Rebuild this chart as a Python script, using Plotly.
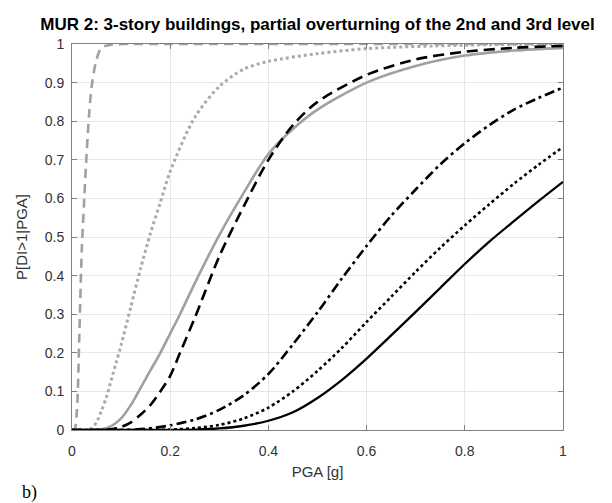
import plotly.graph_objects as go

# ---- data (PGA [g] -> probability) ----
gray_dash_x = [0.0, 0.005, 0.01, 0.015, 0.02, 0.025, 0.03, 0.035, 0.04, 0.05, 0.06, 0.08, 0.12, 0.2, 0.4, 0.6, 0.8, 1.0]
gray_dash_y = [0.0, 0.0, 0.05, 0.25, 0.47, 0.6, 0.72, 0.82, 0.89, 0.96, 0.99, 0.998, 1.0, 1.0, 1.0, 1.0, 1.0, 1.0]

gray_dot_x = [0.0, 0.03, 0.04, 0.05, 0.06, 0.07, 0.08, 0.09, 0.10, 0.12, 0.14, 0.16, 0.18, 0.20, 0.25, 0.30, 0.35, 0.40, 0.50, 0.60, 0.80, 1.0]
gray_dot_y = [0.0, 0.0, 0.005, 0.02, 0.05, 0.085, 0.13, 0.175, 0.22, 0.32, 0.42, 0.51, 0.59, 0.67, 0.81, 0.89, 0.935, 0.955, 0.975, 0.988, 0.997, 1.0]

gray_solid_x = [0.0, 0.04, 0.06, 0.08, 0.10, 0.12, 0.14, 0.16, 0.18, 0.20, 0.22, 0.25, 0.30, 0.35, 0.40, 0.45, 0.50, 0.60, 0.70, 0.80, 0.90, 1.0]
gray_solid_y = [0.0, 0.0, 0.002, 0.01, 0.03, 0.065, 0.11, 0.155, 0.2, 0.25, 0.3, 0.38, 0.505, 0.615, 0.715, 0.78, 0.83, 0.9, 0.943, 0.97, 0.983, 0.99]

black_dash_x = [0.0, 0.06, 0.08, 0.10, 0.12, 0.14, 0.16, 0.18, 0.20, 0.22, 0.25, 0.30, 0.35, 0.40, 0.45, 0.50, 0.60, 0.70, 0.80, 0.90, 1.0]
black_dash_y = [0.0, 0.0, 0.002, 0.008, 0.02, 0.04, 0.065, 0.1, 0.14, 0.2, 0.29, 0.45, 0.58, 0.70, 0.79, 0.85, 0.92, 0.96, 0.98, 0.99, 0.995]

dashdot_x = [0.0, 0.10, 0.15, 0.20, 0.25, 0.30, 0.35, 0.40, 0.45, 0.50, 0.55, 0.60, 0.65, 0.70, 0.75, 0.80, 0.85, 0.90, 0.95, 1.0]
dashdot_y = [0.0, 0.0, 0.003, 0.012, 0.027, 0.052, 0.09, 0.145, 0.222, 0.305, 0.393, 0.477, 0.555, 0.623, 0.688, 0.743, 0.79, 0.83, 0.86, 0.887]

black_dot_x = [0.0, 0.15, 0.20, 0.25, 0.30, 0.35, 0.40, 0.45, 0.50, 0.55, 0.60, 0.65, 0.70, 0.75, 0.80, 0.85, 0.90, 0.95, 1.0]
black_dot_y = [0.0, 0.0, 0.001, 0.005, 0.013, 0.03, 0.058, 0.1, 0.153, 0.213, 0.28, 0.345, 0.41, 0.472, 0.53, 0.585, 0.638, 0.687, 0.733]

black_solid_x = [0.0, 0.20, 0.25, 0.30, 0.35, 0.40, 0.45, 0.50, 0.55, 0.60, 0.65, 0.70, 0.75, 0.80, 0.85, 0.90, 0.95, 1.0]
black_solid_y = [0.0, 0.0, 0.001, 0.004, 0.011, 0.024, 0.046, 0.083, 0.13, 0.185, 0.245, 0.306, 0.368, 0.43, 0.488, 0.541, 0.593, 0.643]

x_ticks = [0, 0.2, 0.4, 0.6, 0.8, 1]
y_ticks = [0, 0.1, 0.2, 0.3, 0.4, 0.5, 0.6, 0.7, 0.8, 0.9, 1]

GRAY = "rgb(160,160,160)"
BLACK = "black"

fig = go.Figure()

series = [
    (gray_dash_x, gray_dash_y, GRAY, "9px,6px", 2.6),
    (gray_dot_x, gray_dot_y, "rgb(170,170,170)", "dot", 3),
    (gray_solid_x, gray_solid_y, GRAY, "solid", 2.6),
    (black_dash_x, black_dash_y, BLACK, "11px,6px", 2.6),
    (dashdot_x, dashdot_y, BLACK, "10px,4px,3px,4px", 2.6),
    (black_dot_x, black_dot_y, BLACK, "dot", 2.6),
    (black_solid_x, black_solid_y, BLACK, "solid", 2.3),
]
for xs, ys, col, dash, w in series:
    fig.add_trace(go.Scatter(
        x=xs, y=ys, mode="lines",
        line=dict(color=col, dash=dash, width=w, shape="spline", smoothing=0.8),
        showlegend=False, hoverinfo="skip",
    ))

FONT = "Liberation Sans, Arial"
axis_common = dict(
    showgrid=True, gridcolor="rgb(230,230,230)", gridwidth=1,
    showline=True, linecolor="rgb(128,128,128)", linewidth=1, mirror="allticks",
    ticks="inside", ticklen=5, tickcolor="rgb(128,128,128)",
    zeroline=False,
    tickfont=dict(family=FONT, size=14, color="rgb(50,50,50)"),
)

fig.update_xaxes(range=[0, 1], tickvals=x_ticks, ticktext=[str(t) for t in x_ticks],
                 ticklabelstandoff=8,
                 title=dict(text="PGA [g]", font=dict(family=FONT, size=15, color="rgb(50,50,50)"), standoff=8),
                 **axis_common)
fig.update_yaxes(range=[0, 1], tickvals=y_ticks, ticktext=[str(t) for t in y_ticks],
                 ticklabelstandoff=4,
                 title=dict(text="P[DI>1|PGA]", font=dict(family=FONT, size=15, color="rgb(50,50,50)"), standoff=13),
                 **axis_common)

PLOT_H = 503 - 36 - 81
fig.update_layout(
    width=612, height=503,
    margin=dict(l=64, r=57, t=36, b=81),
    plot_bgcolor="white", paper_bgcolor="white",
    title=dict(text="<b>MUR 2: 3-story buildings, partial overturning of the 2nd and 3rd level</b>",
               font=dict(family=FONT, size=17, color="black"),
               x=(64 + 555) / 2 / 612, xanchor="center", xref="container",
               y=1 - 16 / 503, yref="container", yanchor="middle"),
    annotations=[dict(text="b)", x=-52 / 491, y=-(485 - 422) / PLOT_H, xref="paper", yref="paper",
                      xanchor="left", yanchor="middle", showarrow=False,
                      font=dict(family="Liberation Serif, Times New Roman", size=18, color="black"))],
)

fig.write_html("out.html")
